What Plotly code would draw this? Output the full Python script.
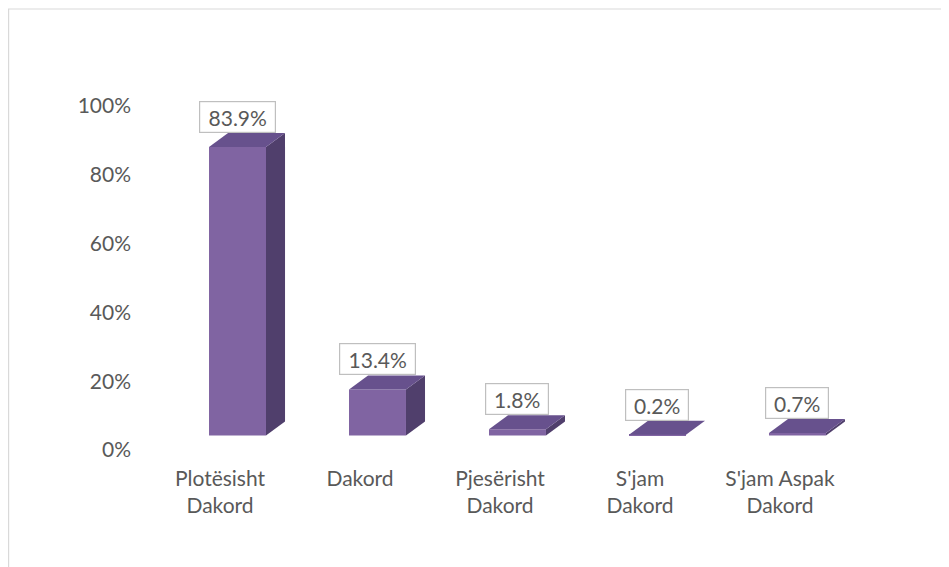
import plotly.graph_objects as go

# ---- data ----
categories = ["Plotësisht<br>Dakord", "Dakord", "Pjesërisht<br>Dakord", "S'jam<br>Dakord", "S'jam Aspak<br>Dakord"]
values = [83.9, 13.4, 1.8, 0.2, 0.7]
y_ticks = [0, 20, 40, 60, 80, 100]
y_tick_labels = ["0%", "20%", "40%", "60%", "80%", "100%"]

# ---- style / geometry ----
FRONT = "#8064A2"
SIDE = "#503F6C"
TOP = "#67518D"
TEXT = "#595959"
FONT = "Lato"
FS = 21

W = 0.407      # front face width (x units)
DX = 0.136     # depth offset x (x units)
DY = 4.07      # depth offset y (value units)
LABEL_SHIFT = -0.125  # category label offset (perspective)
WALL_SHIFT = -4.22    # value-axis labels sit on the back wall (perspective)

# page-pixel plot area (page body has 8px default margin)
BODY = 8
L, T, R, B = 150, 80, 870, 460
FIG_W, FIG_H = 949 - BODY, 567 - BODY

xs = list(range(len(values)))

fig = go.Figure()

# front faces
fig.add_trace(go.Bar(
    x=xs, y=values, width=W, marker=dict(color=FRONT, line=dict(width=0)),
    hoverinfo="skip", showlegend=False,
))

# side faces and top faces
for x, v in zip(xs, values):
    r = x + W / 2
    l = x - W / 2
    fig.add_trace(go.Scatter(
        x=[r, r + DX, r + DX, r, r], y=[0, DY, v + DY, v, 0],
        fill="toself", fillcolor=SIDE, line=dict(width=0), mode="lines",
        hoverinfo="skip", showlegend=False,
    ))
    fig.add_trace(go.Scatter(
        x=[l, r, r + DX, l + DX, l], y=[v, v, v + DY, v + DY, v],
        fill="toself", fillcolor=TOP, line=dict(width=0), mode="lines",
        hoverinfo="skip", showlegend=False,
    ))

# data labels
for x, v in zip(xs, values):
    t = f"{v}%"
    fig.add_annotation(
        x=x, y=v + DY, xref="x", yref="y", text=t, showarrow=False,
        yanchor="bottom", yshift=0,
        font=dict(family=FONT, size=FS, color=TEXT),
        bgcolor="white", bordercolor="#BFBFBF", borderwidth=1.2, borderpad=0,
        width=13 * len(t) + 10, height=30,
    )

# chart area border
fig.add_shape(type="rect", xref="paper", yref="paper",
              x0=(BODY + 0.6 - L) / (R - L), x1=(970 - L) / (R - L),
              y0=(B - 600) / (B - T), y1=(B - 9) / (B - T),
              line=dict(color="#D9D9D9", width=1.2), fillcolor="rgba(0,0,0,0)", layer="below")

fig.update_layout(
    width=FIG_W, height=FIG_H,
    margin=dict(l=L - BODY, r=FIG_W - (R - BODY), t=T - BODY, b=FIG_H - (B - BODY), autoexpand=False),
    paper_bgcolor="white", plot_bgcolor="white",
    font=dict(family=FONT, size=FS, color=TEXT),
    showlegend=False,
    xaxis=dict(
        range=[-0.625, 4.518],
        tickvals=[x + LABEL_SHIFT for x in xs], ticktext=categories,
        showgrid=False, zeroline=False, showline=False, ticks="",
        ticklabelstandoff=4,
        tickfont=dict(family=FONT, size=FS, color=TEXT),
    ),
    yaxis=dict(
        range=[-7.12, 103.34],
        tickvals=[t + WALL_SHIFT for t in y_ticks], ticktext=y_tick_labels,
        showgrid=False, zeroline=False, showline=False, ticks="",
        ticklabelstandoff=18,
        tickfont=dict(family=FONT, size=FS, color=TEXT),
    ),
)

fig.write_html("out.html")
